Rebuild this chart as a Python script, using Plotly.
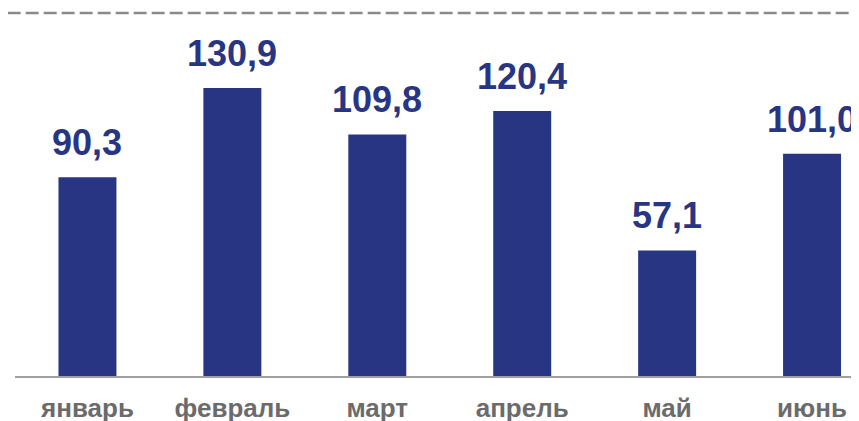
import plotly.graph_objects as go

months = ["январь", "февраль", "март", "апрель", "май", "июнь"]
values = [90.3, 130.9, 109.8, 120.4, 57.1, 101.0]
labels = ["90,3", "130,9", "109,8", "120,4", "57,1", "101,0"]
ref_line = 165

bar_color = "#283583"
fnt = "Liberation Sans, Arial, sans-serif"

fig = go.Figure()
fig.add_trace(go.Bar(
    x=months, y=values,
    marker=dict(color=bar_color, line=dict(width=0)),
    width=0.4, cliponaxis=False,
))

for m, v, t in zip(months, values, labels):
    fig.add_annotation(x=m, y=v, text="<b>%s</b>" % t, showarrow=False,
                       yanchor="bottom", xanchor="center", yshift=12,
                       font=dict(family=fnt, size=36, color=bar_color))

fig.add_shape(type="line", xref="paper", yref="y", x0=-0.03, x1=1.03, y0=ref_line, y1=ref_line,
              line=dict(color="#8a8a8a", width=2.5, dash="13px,5px"))

fig.update_layout(
    width=859, height=421,
    margin=dict(l=6.5, r=8, t=0, b=53, autoexpand=False),
    plot_bgcolor="white", paper_bgcolor="white",
    showlegend=False,
    font=dict(family=fnt),
)
fig.update_xaxes(
    range=[-0.5, 5.324], showline=True, linecolor="#a0a0a0", linewidth=1.5,
    ticks="", showgrid=False, automargin=False,
    tickvals=months, ticktext=["<b>%s</b>" % m for m in months],
    tickfont=dict(family=fnt, size=26, color="#6b6b6b"),
    ticklabelstandoff=8,
)
fig.update_yaxes(range=[0, 368/2.2], visible=False, showgrid=False, automargin=False)

fig.write_html("out.html")
